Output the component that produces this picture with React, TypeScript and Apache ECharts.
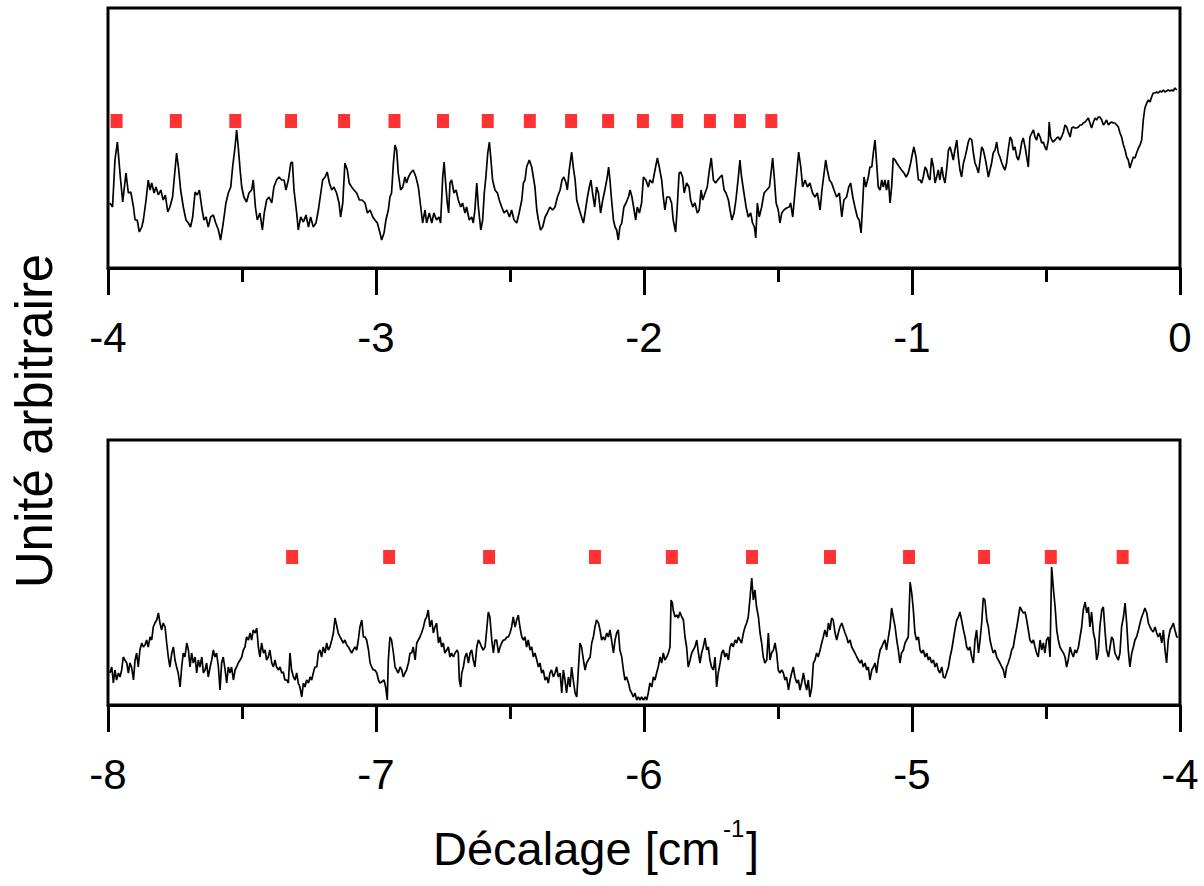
import React, { useEffect, useRef } from "react";
import * as echarts from "echarts";

// ---- Upper panel (-4 .. 0 cm^-1), arbitrary intensity units ----
const upperTraceA: [number, number][] = [
  [-3.993,6.5],[-3.983,6.1],[-3.974,10.8],[-3.965,12.6],[-3.953,8.8],[-3.945,6.6],[-3.933,9.5],[-3.924,7.5],[-3.915,7.6],[-3.905,6.1],[-3.899,4.8],[-3.891,4.8],[-3.883,3.6],[-3.874,4.1],[-3.868,4.8],[-3.858,6.8],[-3.850,8.8],[-3.843,7.8],[-3.837,8.5],[-3.828,7.5],[-3.821,8.1],[-3.812,7.3],[-3.803,7.8],[-3.794,6.8],[-3.786,7.3],[-3.777,5.6],[-3.769,6.1],[-3.759,7.1],[-3.750,9.8],[-3.744,11.5],[-3.736,9.8],[-3.729,7.8],[-3.719,6.1],[-3.709,4.8],[-3.700,4.5],[-3.692,4.1],[-3.684,5.1],[-3.675,7.6],[-3.667,7.3],[-3.659,7.8],[-3.650,6.0],[-3.642,4.8],[-3.634,5.1],[-3.626,4.1],[-3.617,5.1],[-3.607,5.3],[-3.598,4.5],[-3.588,3.8],[-3.580,2.8],[-3.570,4.5],[-3.560,6.5],[-3.551,7.5],[-3.542,8.1],[-3.535,10.1],[-3.526,12.1],[-3.520,13.8],[-3.514,12.1],[-3.507,9.8],[-3.501,8.1],[-3.493,7.1],[-3.483,6.6],[-3.474,7.5],[-3.464,7.8],[-3.458,8.8],[-3.450,6.1],[-3.443,4.8],[-3.433,5.5],[-3.424,3.8],[-3.417,5.5],[-3.408,6.8],[-3.399,7.1],[-3.389,6.5],[-3.381,8.1],[-3.371,8.8],[-3.362,9.1],[-3.352,8.8],[-3.343,8.8],[-3.336,7.8],[-3.327,8.8],[-3.318,10.5],[-3.312,10.6],[-3.306,7.8],[-3.296,5.5],[-3.290,3.8],[-3.281,5.1],[-3.271,4.6],[-3.261,5.3],[-3.252,4.1],[-3.244,5.1],[-3.234,4.1],[-3.224,4.5],[-3.215,5.8],[-3.206,7.5],[-3.199,8.8],[-3.190,9.1],[-3.182,9.6],[-3.174,8.5],[-3.165,7.8],[-3.157,8.1],[-3.147,7.5],[-3.138,6.5],[-3.132,5.1],[-3.124,6.5],[-3.116,10.5],[-3.107,9.8],[-3.100,8.5],[-3.091,8.1],[-3.082,7.8],[-3.072,7.5],[-3.062,6.8],[-3.052,6.8],[-3.041,6.5],[-3.032,5.5],[-3.022,5.8],[-3.012,5.1],[-3.004,4.8],[-2.995,4.5],[-2.985,3.5]
];
const upperTraceB: [number, number][] = [
  [-2.979,2.8],[-2.970,3.5],[-2.963,4.8],[-2.954,5.8],[-2.948,7.1],[-2.942,7.5],[-2.935,10.5],[-2.929,12.3],[-2.923,11.8],[-2.917,9.5],[-2.908,7.8],[-2.900,8.1],[-2.892,9.1],[-2.886,8.5],[-2.879,9.1],[-2.871,9.5],[-2.861,9.8],[-2.851,9.1],[-2.842,8.1],[-2.833,6.1],[-2.826,4.5],[-2.817,5.8],[-2.811,4.5],[-2.801,5.5],[-2.792,4.5],[-2.784,5.5],[-2.774,4.8],[-2.765,5.1],[-2.759,4.5],[-2.751,9.1],[-2.746,10.6],[-2.739,8.1],[-2.734,6.5],[-2.729,5.5],[-2.724,8.5],[-2.718,8.8],[-2.709,7.5],[-2.701,7.8],[-2.693,6.8],[-2.684,6.1],[-2.677,6.5],[-2.668,5.5],[-2.662,6.1],[-2.652,4.8],[-2.643,5.1],[-2.637,4.5],[-2.631,5.8],[-2.624,8.5],[-2.618,6.1],[-2.609,3.8],[-2.602,4.8],[-2.596,7.5],[-2.590,9.1],[-2.583,11.5],[-2.577,12.6],[-2.571,10.8],[-2.565,8.8],[-2.556,7.8],[-2.547,7.5],[-2.540,6.8],[-2.531,6.1],[-2.522,5.5],[-2.512,5.8],[-2.502,5.1],[-2.494,5.8],[-2.485,4.8],[-2.475,4.5],[-2.466,5.5],[-2.456,6.8],[-2.450,8.5],[-2.444,8.8],[-2.438,10.1],[-2.428,10.8],[-2.419,10.1],[-2.413,9.1],[-2.407,8.1],[-2.400,5.8],[-2.394,4.8],[-2.386,3.8],[-2.378,4.1],[-2.369,5.1],[-2.361,5.5],[-2.351,6.1],[-2.341,5.8],[-2.332,6.1],[-2.323,7.1],[-2.313,7.8],[-2.306,8.8],[-2.299,9.1],[-2.291,8.5],[-2.286,7.8],[-2.279,9.8],[-2.270,11.6],[-2.264,10.1],[-2.257,8.8],[-2.251,6.8],[-2.241,5.8],[-2.233,5.1],[-2.226,4.5],[-2.220,5.5],[-2.211,7.1],[-2.204,8.1],[-2.198,8.8],[-2.192,7.5],[-2.184,6.1],[-2.177,8.1],[-2.170,7.5],[-2.162,5.5],[-2.154,6.8],[-2.146,7.8],[-2.137,9.1],[-2.132,10.1],[-2.127,8.8],[-2.121,6.8],[-2.114,4.8],[-2.108,4.1],[-2.102,3.8],[-2.096,2.8],[-2.090,4.1],[-2.083,4.5],[-2.075,6.1],[-2.067,6.5],[-2.058,7.1],[-2.052,7.8],[-2.045,7.1],[-2.037,5.8],[-2.031,4.8],[-2.025,6.1],[-2.017,5.5],[-2.009,6.5],[-2.002,9.1],[-1.993,8.8],[-1.984,8.1]
];
const upperTraceC: [number, number][] = [
  [-1.978,8.8],[-1.968,8.5],[-1.959,9.8],[-1.950,11.0],[-1.943,10.1],[-1.934,8.8],[-1.928,7.1],[-1.922,5.8],[-1.915,7.1],[-1.905,7.1],[-1.897,6.5],[-1.891,4.8],[-1.882,3.6],[-1.876,6.1],[-1.869,9.5],[-1.863,9.6],[-1.856,9.1],[-1.850,7.5],[-1.841,8.5],[-1.832,8.1],[-1.826,6.8],[-1.818,6.1],[-1.810,6.5],[-1.801,5.5],[-1.794,5.8],[-1.787,7.8],[-1.781,6.8],[-1.772,7.5],[-1.764,8.1],[-1.756,9.8],[-1.749,11.0],[-1.741,8.8],[-1.733,8.5],[-1.725,8.8],[-1.716,9.1],[-1.709,9.3],[-1.701,7.8],[-1.694,7.5],[-1.685,6.8],[-1.679,5.8],[-1.672,4.8],[-1.664,5.5],[-1.657,6.8],[-1.648,9.1],[-1.642,10.8],[-1.636,9.1],[-1.627,7.5],[-1.619,6.1],[-1.611,5.1],[-1.602,5.5],[-1.595,4.5],[-1.588,4.1],[-1.583,3.0],[-1.577,6.5],[-1.570,5.1],[-1.561,6.1],[-1.552,7.5],[-1.542,7.8],[-1.532,8.1],[-1.526,9.5],[-1.520,11.0],[-1.514,9.1],[-1.507,6.5],[-1.499,5.8],[-1.493,4.5],[-1.486,5.5],[-1.478,5.8],[-1.468,6.0],[-1.458,6.1],[-1.453,6.5],[-1.445,5.1],[-1.437,7.5],[-1.430,9.5],[-1.423,11.6],[-1.415,10.1],[-1.408,8.1],[-1.399,8.8],[-1.390,8.1],[-1.381,8.5],[-1.371,7.5],[-1.362,7.1],[-1.353,7.5],[-1.343,5.8],[-1.336,7.8],[-1.328,9.5],[-1.322,10.8],[-1.316,9.8],[-1.308,8.8],[-1.300,8.5],[-1.291,7.8],[-1.281,7.1],[-1.271,7.5],[-1.262,5.1],[-1.254,6.8],[-1.244,7.1],[-1.236,8.1],[-1.229,8.5],[-1.221,7.1],[-1.213,6.1],[-1.204,5.1],[-1.197,4.8],[-1.190,3.5],[-1.184,6.5],[-1.179,9.1],[-1.172,8.1],[-1.163,9.1],[-1.157,10.1],[-1.150,10.1],[-1.144,11.6],[-1.138,12.8],[-1.132,10.5],[-1.126,8.1],[-1.119,7.8],[-1.113,8.8],[-1.107,8.1],[-1.101,8.8],[-1.095,7.8],[-1.088,8.8],[-1.082,6.5],[-1.076,8.1],[-1.070,11.0],[-1.063,10.8],[-1.057,10.5],[-1.047,10.1],[-1.039,9.8],[-1.030,9.5],[-1.022,9.1],[-1.014,9.5],[-1.005,10.5],[-0.998,11.5],[-0.993,12.1],[-0.985,11.1],[-0.976,8.8]
];
const upperTraceD: [number, number][] = [
  [-0.970,8.8],[-0.964,8.5],[-0.958,9.1],[-0.951,10.1],[-0.945,9.8],[-0.939,9.1],[-0.933,8.8],[-0.927,11.0],[-0.920,10.1],[-0.914,8.5],[-0.908,9.1],[-0.902,9.8],[-0.896,8.8],[-0.889,10.1],[-0.883,9.1],[-0.877,8.5],[-0.871,9.8],[-0.864,11.8],[-0.858,12.1],[-0.852,11.5],[-0.846,10.8],[-0.840,11.8],[-0.833,12.8],[-0.827,11.1],[-0.821,9.8],[-0.815,9.1],[-0.808,10.5],[-0.802,11.1],[-0.796,11.8],[-0.790,12.6],[-0.784,13.0],[-0.777,12.8],[-0.771,11.5],[-0.765,10.5],[-0.759,10.1],[-0.752,9.5],[-0.746,10.8],[-0.740,12.1],[-0.734,11.8],[-0.728,11.1],[-0.721,10.1],[-0.715,9.1],[-0.709,9.8],[-0.703,10.5],[-0.697,11.5],[-0.690,11.8],[-0.684,12.6],[-0.678,11.5],[-0.672,11.1],[-0.665,10.5],[-0.659,10.1],[-0.653,9.8],[-0.647,10.5],[-0.641,11.8],[-0.634,13.1],[-0.628,12.8],[-0.622,11.8],[-0.616,12.1],[-0.609,11.1],[-0.603,10.8],[-0.597,11.5],[-0.591,12.5],[-0.585,13.0],[-0.578,12.1],[-0.572,11.1],[-0.566,10.1],[-0.560,13.1],[-0.553,13.5],[-0.547,13.8],[-0.541,13.1],[-0.535,12.8],[-0.529,13.5],[-0.522,13.1],[-0.516,12.5],[-0.510,12.6],[-0.504,12.1],[-0.498,11.8],[-0.491,12.8],[-0.488,14.6],[-0.483,13.1],[-0.475,12.6],[-0.466,12.8],[-0.460,13.0],[-0.454,13.1],[-0.448,12.8],[-0.442,13.1],[-0.435,13.6],[-0.429,14.3],[-0.423,14.1],[-0.417,13.6],[-0.410,13.1],[-0.404,14.0],[-0.398,14.1],[-0.392,14.0],[-0.386,14.0],[-0.379,14.1],[-0.373,14.3],[-0.367,14.3],[-0.361,14.5],[-0.354,14.6],[-0.348,14.8],[-0.342,15.0],[-0.336,14.5],[-0.330,14.0],[-0.323,14.6],[-0.317,15.0],[-0.311,14.8],[-0.305,15.1],[-0.299,15.1],[-0.292,14.8],[-0.286,14.3],[-0.280,14.5],[-0.274,14.8],[-0.267,14.3],[-0.261,14.5],[-0.255,14.6],[-0.249,14.5],[-0.243,14.5],[-0.236,14.3],[-0.230,14.1],[-0.224,13.5],[-0.218,13.1],[-0.211,12.3],[-0.205,11.8],[-0.199,11.1],[-0.193,10.8],[-0.187,10.0],[-0.180,10.6],[-0.174,11.1],[-0.168,11.0],[-0.162,11.5],[-0.155,12.0],[-0.149,12.3],[-0.143,12.8],[-0.137,14.8],[-0.131,16.0],[-0.124,16.5],[-0.118,16.8],[-0.112,16.6],[-0.106,17.1],[-0.100,17.5],[-0.093,17.5],[-0.087,17.6],[-0.081,17.5],[-0.075,17.7],[-0.068,17.6],[-0.062,17.8],[-0.056,17.6],[-0.050,17.7],[-0.044,17.8],[-0.037,17.7],[-0.031,17.8],[-0.025,17.7],[-0.019,18.0],[-0.012,17.8]
];
const upperMarkerX = [-3.968,-3.747,-3.525,-3.317,-3.119,-2.931,-2.750,-2.583,-2.426,-2.272,-2.134,-2.004,-1.876,-1.754,-1.642,-1.525];
const upperMarkerLevel = 14.7;

// ---- Lower panel (-8 .. -4 cm^-1) ----
const lowerTraceA: [number, number][] = [
  [-7.993,3.2],[-7.986,3.8],[-7.980,2.2],[-7.974,3.5],[-7.968,2.5],[-7.961,3.2],[-7.955,2.8],[-7.949,3.5],[-7.943,4.8],[-7.937,4.5],[-7.930,4.2],[-7.924,3.2],[-7.918,4.2],[-7.912,3.8],[-7.905,2.5],[-7.899,4.5],[-7.893,5.2],[-7.887,3.8],[-7.881,5.5],[-7.874,6.2],[-7.868,5.8],[-7.862,6.0],[-7.856,6.5],[-7.850,5.8],[-7.843,6.8],[-7.837,6.5],[-7.831,7.8],[-7.825,8.2],[-7.818,8.5],[-7.812,9.2],[-7.806,8.2],[-7.800,7.5],[-7.794,8.2],[-7.787,7.8],[-7.781,6.2],[-7.775,4.8],[-7.769,3.8],[-7.762,5.2],[-7.756,5.8],[-7.750,4.5],[-7.744,3.8],[-7.738,3.2],[-7.731,1.8],[-7.725,3.8],[-7.719,5.2],[-7.713,4.8],[-7.706,6.2],[-7.700,5.5],[-7.694,3.8],[-7.688,5.2],[-7.682,4.2],[-7.675,4.8],[-7.669,3.2],[-7.663,4.5],[-7.657,3.8],[-7.650,4.8],[-7.644,3.2],[-7.638,3.5],[-7.632,4.2],[-7.626,2.8],[-7.619,3.8],[-7.613,4.5],[-7.607,5.5],[-7.601,4.8],[-7.595,5.2],[-7.588,3.8],[-7.582,1.5],[-7.576,4.2],[-7.570,4.8],[-7.563,3.5],[-7.557,2.2],[-7.551,3.8],[-7.545,3.2],[-7.539,3.8],[-7.532,2.5],[-7.526,3.5],[-7.520,3.8],[-7.514,4.2],[-7.507,4.5],[-7.501,4.8],[-7.495,5.5],[-7.489,5.8],[-7.483,6.8],[-7.476,6.5],[-7.470,7.2],[-7.464,6.5],[-7.458,7.5],[-7.451,7.2],[-7.445,7.7],[-7.439,5.8],[-7.433,4.8],[-7.427,6.2],[-7.420,5.2],[-7.414,5.5],[-7.408,4.5],[-7.402,4.8],[-7.396,5.5],[-7.389,4.2],[-7.383,3.8],[-7.377,4.5],[-7.371,3.8],[-7.364,3.5],[-7.358,3.8],[-7.352,3.2],[-7.346,3.3],[-7.340,2.5],[-7.333,2.5],[-7.327,2.2],[-7.321,5.2],[-7.315,3.5],[-7.308,2.8],[-7.302,2.5],[-7.296,3.2],[-7.290,2.2],[-7.284,1.8],[-7.277,0.8],[-7.271,2.2],[-7.265,1.8],[-7.259,2.5],[-7.252,2.2],[-7.246,2.8],[-7.240,2.5],[-7.234,3.2],[-7.228,3.8],[-7.221,3.8],[-7.215,5.2],[-7.209,5.5],[-7.203,4.8],[-7.197,5.8],[-7.190,5.2],[-7.184,6.2],[-7.178,5.5],[-7.172,5.8],[-7.165,6.5],[-7.159,7.2],[-7.153,8.7],[-7.147,8.0],[-7.141,7.2],[-7.134,6.8],[-7.128,6.5],[-7.122,6.2],[-7.116,6.5],[-7.109,6.0],[-7.103,5.8],[-7.097,5.5],[-7.091,5.2],[-7.085,5.5],[-7.078,5.8],[-7.072,5.5],[-7.066,6.5],[-7.060,7.8],[-7.053,8.5],[-7.047,6.8],[-7.041,6.8],[-7.035,6.5],[-7.028,5.5],[-7.022,4.2],[-7.016,3.8],[-7.010,3.5],[-7.004,3.5],[-6.997,3.2],[-6.991,2.5],[-6.985,2.2]
];
const lowerTraceB: [number, number][] = [
  [-6.979,2.3],[-6.970,2.5],[-6.964,1.8],[-6.958,0.5],[-6.954,4.5],[-6.948,6.8],[-6.942,6.5],[-6.935,5.2],[-6.929,3.8],[-6.923,3.5],[-6.917,3.2],[-6.910,3.8],[-6.904,3.5],[-6.898,2.8],[-6.892,3.2],[-6.886,3.5],[-6.879,4.2],[-6.873,5.2],[-6.867,5.2],[-6.861,5.8],[-6.854,4.5],[-6.848,6.2],[-6.842,6.5],[-6.836,6.8],[-6.830,7.2],[-6.823,7.8],[-6.817,8.5],[-6.811,8.8],[-6.805,9.5],[-6.799,7.8],[-6.792,8.5],[-6.786,7.2],[-6.780,7.8],[-6.774,8.2],[-6.767,6.2],[-6.761,6.8],[-6.755,5.8],[-6.749,6.2],[-6.743,5.2],[-6.736,5.5],[-6.730,5.8],[-6.724,4.8],[-6.718,5.2],[-6.711,4.8],[-6.705,5.2],[-6.697,5.5],[-6.693,5.2],[-6.689,2.5],[-6.684,1.8],[-6.680,3.2],[-6.674,3.8],[-6.668,4.8],[-6.662,5.2],[-6.655,4.2],[-6.649,5.2],[-6.643,5.5],[-6.637,4.5],[-6.631,3.8],[-6.624,5.8],[-6.618,6.5],[-6.612,6.2],[-6.606,5.8],[-6.600,5.5],[-6.593,5.8],[-6.587,7.5],[-6.581,9.3],[-6.575,8.8],[-6.568,6.5],[-6.562,5.2],[-6.556,6.5],[-6.550,6.5],[-6.543,5.2],[-6.537,5.8],[-6.531,6.2],[-6.525,6.5],[-6.519,6.5],[-6.512,6.8],[-6.506,6.8],[-6.500,7.2],[-6.494,7.8],[-6.488,8.8],[-6.481,7.8],[-6.475,8.5],[-6.469,9.0],[-6.463,7.8],[-6.456,6.8],[-6.450,6.5],[-6.444,6.8],[-6.438,5.8],[-6.432,6.5],[-6.425,5.5],[-6.419,5.8],[-6.413,4.8],[-6.407,5.2],[-6.400,4.5],[-6.394,3.8],[-6.388,4.2],[-6.382,3.2],[-6.376,3.5],[-6.369,2.5],[-6.363,2.8],[-6.357,2.2],[-6.351,3.2],[-6.345,3.5],[-6.338,2.8],[-6.332,3.2],[-6.326,3.8],[-6.320,2.8],[-6.313,3.2],[-6.307,1.2],[-6.301,3.5],[-6.295,2.5],[-6.289,1.2],[-6.282,2.8],[-6.276,1.8],[-6.270,3.8],[-6.264,2.5],[-6.257,1.2],[-6.251,0.8],[-6.245,3.5],[-6.239,6.2],[-6.233,5.8],[-6.226,4.5],[-6.220,3.5],[-6.214,4.2],[-6.208,4.5],[-6.201,4.8],[-6.195,6.2],[-6.189,6.8],[-6.183,7.8],[-6.177,8.5],[-6.170,8.2],[-6.164,7.5],[-6.158,6.5],[-6.152,6.8],[-6.146,6.5],[-6.139,7.2],[-6.133,6.8],[-6.127,7.5],[-6.121,6.5],[-6.114,5.2],[-6.108,6.5],[-6.102,7.2],[-6.096,7.5],[-6.090,5.5],[-6.083,4.8],[-6.077,3.5],[-6.071,2.5],[-6.065,2.8],[-6.058,2.2],[-6.052,1.5],[-6.046,1.2],[-6.040,0.8],[-6.034,1.2],[-6.027,0.5],[-6.021,0.8],[-6.015,0.5],[-6.009,0.8],[-6.002,0.5],[-5.996,0.8],[-5.990,0.5],[-5.984,1.2]
];
const lowerTraceC: [number, number][] = [
  [-5.978,2.2],[-5.971,1.8],[-5.965,2.8],[-5.959,2.5],[-5.953,3.2],[-5.947,3.8],[-5.940,4.8],[-5.934,4.2],[-5.928,5.2],[-5.922,4.5],[-5.915,4.8],[-5.909,5.2],[-5.903,5.8],[-5.899,10.5],[-5.894,10.2],[-5.891,9.5],[-5.884,8.8],[-5.878,9.0],[-5.872,8.7],[-5.866,9.3],[-5.859,8.8],[-5.853,8.5],[-5.847,6.8],[-5.841,5.8],[-5.835,3.8],[-5.828,4.5],[-5.822,5.2],[-5.816,5.5],[-5.810,5.8],[-5.803,6.5],[-5.797,5.2],[-5.791,4.2],[-5.785,5.2],[-5.779,5.8],[-5.772,6.7],[-5.766,5.5],[-5.760,5.8],[-5.754,4.5],[-5.748,3.8],[-5.741,3.5],[-5.735,4.8],[-5.729,1.8],[-5.723,3.2],[-5.716,4.2],[-5.710,5.2],[-5.704,5.5],[-5.698,4.8],[-5.692,5.2],[-5.685,4.5],[-5.679,5.8],[-5.673,6.2],[-5.667,5.8],[-5.660,6.5],[-5.654,6.2],[-5.648,6.8],[-5.642,6.5],[-5.636,6.2],[-5.629,7.2],[-5.623,7.8],[-5.617,8.2],[-5.611,8.8],[-5.604,10.8],[-5.598,12.7],[-5.592,10.5],[-5.586,11.5],[-5.580,9.8],[-5.573,8.8],[-5.567,7.2],[-5.561,6.2],[-5.555,4.8],[-5.549,4.2],[-5.542,4.5],[-5.536,7.2],[-5.530,4.5],[-5.524,5.2],[-5.517,5.5],[-5.511,6.2],[-5.505,5.2],[-5.499,3.5],[-5.493,3.2],[-5.486,3.5],[-5.480,3.2],[-5.474,2.5],[-5.468,2.8],[-5.461,1.5],[-5.455,2.5],[-5.449,3.2],[-5.443,3.8],[-5.437,2.8],[-5.430,2.2],[-5.424,2.5],[-5.418,1.5],[-5.412,2.2],[-5.405,3.2],[-5.399,2.2],[-5.393,1.5],[-5.387,2.5],[-5.381,0.8],[-5.374,1.8],[-5.368,4.2],[-5.362,4.5],[-5.356,5.2],[-5.350,4.8],[-5.343,5.5],[-5.337,6.2],[-5.331,6.8],[-5.325,7.5],[-5.318,6.8],[-5.312,8.2],[-5.306,7.5],[-5.300,8.7],[-5.294,8.5],[-5.287,7.2],[-5.281,6.5],[-5.275,7.2],[-5.269,7.8],[-5.262,8.2],[-5.256,7.7],[-5.250,7.2],[-5.244,6.8],[-5.238,6.2],[-5.231,6.5],[-5.225,5.8],[-5.219,5.5],[-5.213,5.2],[-5.206,4.8],[-5.200,4.5],[-5.194,4.2],[-5.188,4.5],[-5.182,3.8],[-5.175,4.2],[-5.169,3.5],[-5.163,3.8],[-5.157,2.5],[-5.150,3.5],[-5.144,3.8],[-5.138,4.2],[-5.132,3.2],[-5.126,4.5],[-5.119,5.5],[-5.113,5.8],[-5.107,6.2],[-5.101,6.5],[-5.095,5.5],[-5.088,6.8],[-5.082,7.8],[-5.076,9.7],[-5.070,8.8],[-5.063,7.8],[-5.057,6.5],[-5.051,5.5],[-5.045,4.2],[-5.039,5.2],[-5.032,5.5],[-5.026,6.2],[-5.020,6.5],[-5.014,6.8],[-5.007,12.3],[-5.001,11.2],[-4.995,9.5],[-4.989,7.2],[-4.983,6.5],[-4.976,6.8]
];
const lowerTraceD: [number, number][] = [
  [-4.970,5.5],[-4.964,5.2],[-4.958,5.5],[-4.951,4.8],[-4.945,5.2],[-4.939,4.5],[-4.933,4.8],[-4.927,4.2],[-4.920,4.5],[-4.914,3.8],[-4.908,4.2],[-4.902,3.5],[-4.896,3.2],[-4.889,3.8],[-4.883,2.8],[-4.877,2.7],[-4.871,3.2],[-4.864,3.8],[-4.858,4.8],[-4.852,5.5],[-4.846,6.5],[-4.840,7.5],[-4.833,8.5],[-4.827,8.8],[-4.821,9.3],[-4.815,8.5],[-4.808,7.5],[-4.802,6.8],[-4.796,5.8],[-4.790,5.5],[-4.784,5.8],[-4.777,4.8],[-4.771,4.2],[-4.765,6.5],[-4.759,7.5],[-4.752,5.2],[-4.746,6.5],[-4.740,8.2],[-4.734,10.7],[-4.728,10.5],[-4.721,8.5],[-4.715,7.8],[-4.709,6.5],[-4.703,5.8],[-4.697,5.2],[-4.690,5.5],[-4.684,4.8],[-4.678,4.5],[-4.672,4.2],[-4.665,3.8],[-4.659,3.5],[-4.653,2.7],[-4.647,3.8],[-4.641,4.2],[-4.634,4.8],[-4.628,5.5],[-4.622,5.8],[-4.616,6.8],[-4.609,7.8],[-4.603,8.8],[-4.597,9.8],[-4.591,9.5],[-4.585,9.2],[-4.578,9.3],[-4.572,8.5],[-4.566,7.5],[-4.560,6.5],[-4.553,6.2],[-4.547,6.5],[-4.541,5.8],[-4.535,5.2],[-4.529,4.8],[-4.522,6.5],[-4.516,5.5],[-4.510,6.2],[-4.504,5.2],[-4.498,6.5],[-4.491,6.8],[-4.485,4.8],[-4.479,13.8],[-4.473,11.8],[-4.466,9.8],[-4.460,7.5],[-4.454,6.5],[-4.448,5.8],[-4.442,5.5],[-4.435,5.2],[-4.429,4.8],[-4.423,3.8],[-4.417,4.5],[-4.410,5.8],[-4.404,5.2],[-4.398,4.8],[-4.392,5.5],[-4.386,5.2],[-4.379,5.8],[-4.373,6.8],[-4.367,7.8],[-4.361,9.5],[-4.354,10.3],[-4.348,9.2],[-4.342,9.8],[-4.336,7.8],[-4.330,9.3],[-4.323,7.2],[-4.317,6.5],[-4.311,4.5],[-4.305,5.2],[-4.299,7.8],[-4.292,9.5],[-4.286,9.8],[-4.280,7.5],[-4.274,5.5],[-4.267,4.8],[-4.261,5.8],[-4.255,6.8],[-4.249,6.5],[-4.243,5.2],[-4.236,4.8],[-4.230,4.5],[-4.224,5.2],[-4.218,7.8],[-4.211,8.8],[-4.205,10.2],[-4.199,8.2],[-4.193,5.5],[-4.187,3.8],[-4.180,5.2],[-4.174,5.8],[-4.168,6.5],[-4.162,6.8],[-4.155,7.5],[-4.149,8.2],[-4.143,8.8],[-4.137,9.2],[-4.131,9.7],[-4.124,9.2],[-4.118,8.2],[-4.112,7.8],[-4.106,7.5],[-4.100,7.3],[-4.093,7.8],[-4.087,7.2],[-4.081,6.8],[-4.075,7.2],[-4.068,6.2],[-4.062,7.5],[-4.056,5.5],[-4.050,4.2],[-4.044,6.5],[-4.037,7.5],[-4.031,7.8],[-4.025,8.2],[-4.019,7.5],[-4.012,6.8],[-4.006,6.8]
];
const lowerMarkerX = [-7.313,-6.951,-6.578,-6.183,-5.896,-5.597,-5.306,-5.011,-4.731,-4.482,-4.214];
const lowerMarkerLevel = 14.8;

const upperRange = [-4, 0];
const lowerRange = [-8, -4];
const upperYMax = 26;
const lowerYMax = 26.5;

const yTitle = "Unité arbitraire";
const xTitleMain = "Décalage [cm";
const xTitleSup = "-1";
const xTitleEnd = "]";

const FONT = "'Liberation Sans', Arial, Helvetica, sans-serif";

function makeXAxis(gridIndex: number, range: number[]) {
  return {
    gridIndex,
    type: "value",
    min: range[0],
    max: range[1],
    interval: 1,
    axisLine: { show: true, onZero: false, lineStyle: { color: "#000", width: 3 } },
    axisTick: { show: true, length: 27, lineStyle: { color: "#000", width: 3 } },
    minorTick: { show: true, splitNumber: 2, length: 14, lineStyle: { color: "#000", width: 3 } },
    splitLine: { show: false },
    minorSplitLine: { show: false },
    axisLabel: {
      fontSize: 42,
      fontFamily: FONT,
      color: "#000",
      margin: 69,
      verticalAlign: "middle",
    },
  };
}

export default function App() {
  const ref = useRef<HTMLDivElement>(null);
  useEffect(() => {
    document.body.style.margin = "0";
    if (!ref.current) return;
    const chart = echarts.init(ref.current, null, { renderer: "svg" });
    const upperTrace = [...upperTraceA, ...upperTraceB, ...upperTraceC, ...upperTraceD];
    const lowerTrace = [...lowerTraceA, ...lowerTraceB, ...lowerTraceC, ...lowerTraceD];
    chart.setOption({
      animation: false,
      backgroundColor: "#fff",
      grid: [
        { left: 108, top: 8, width: 1072, height: 260, show: true, borderColor: "#000", borderWidth: 3, backgroundColor: "transparent" },
        { left: 108, top: 440, width: 1072, height: 265, show: true, borderColor: "#000", borderWidth: 3, backgroundColor: "transparent" },
      ],
      xAxis: [makeXAxis(0, upperRange), makeXAxis(1, lowerRange)],
      yAxis: [
        { gridIndex: 0, type: "value", min: 0, max: upperYMax, show: false },
        { gridIndex: 1, type: "value", min: 0, max: lowerYMax, show: false },
      ],
      series: [
        {
          type: "line", xAxisIndex: 0, yAxisIndex: 0, data: upperTrace, showSymbol: false, symbol: "none",
          lineStyle: { color: "#000", width: 1.7 }, silent: true, z: 2,
        },
        {
          type: "scatter", xAxisIndex: 0, yAxisIndex: 0, data: upperMarkerX.map((x) => [x, upperMarkerLevel]),
          symbol: "rect", symbolSize: [12, 14], itemStyle: { color: "#ff0000" }, silent: true, z: 3,
        },
        {
          type: "line", xAxisIndex: 1, yAxisIndex: 1, data: lowerTrace, showSymbol: false, symbol: "none",
          lineStyle: { color: "#000", width: 1.7 }, silent: true, z: 2,
        },
        {
          type: "scatter", xAxisIndex: 1, yAxisIndex: 1, data: lowerMarkerX.map((x) => [x, lowerMarkerLevel]),
          symbol: "rect", symbolSize: [12, 14], itemStyle: { color: "#ff0000" }, silent: true, z: 3,
        },
      ],
      graphic: [
        {
          type: "text", x: 34, y: 421, rotation: Math.PI / 2,
          style: { text: yTitle, fontSize: 51, fontFamily: FONT, fill: "#000", align: "center", verticalAlign: "middle" },
        },
        {
          type: "text", x: 433, y: 848,
          style: { text: xTitleMain, fontSize: 47, fontFamily: FONT, fill: "#000", align: "left", verticalAlign: "middle" },
        },
        {
          type: "text", x: 723, y: 828,
          style: { text: xTitleSup, fontSize: 24, fontFamily: FONT, fill: "#000", align: "left", verticalAlign: "middle" },
        },
        {
          type: "text", x: 746, y: 848,
          style: { text: xTitleEnd, fontSize: 47, fontFamily: FONT, fill: "#000", align: "left", verticalAlign: "middle" },
        },
      ],
    });
    return () => chart.dispose();
  }, []);
  return <div ref={ref} style={{ width: 1204, height: 886 }} />;
}
